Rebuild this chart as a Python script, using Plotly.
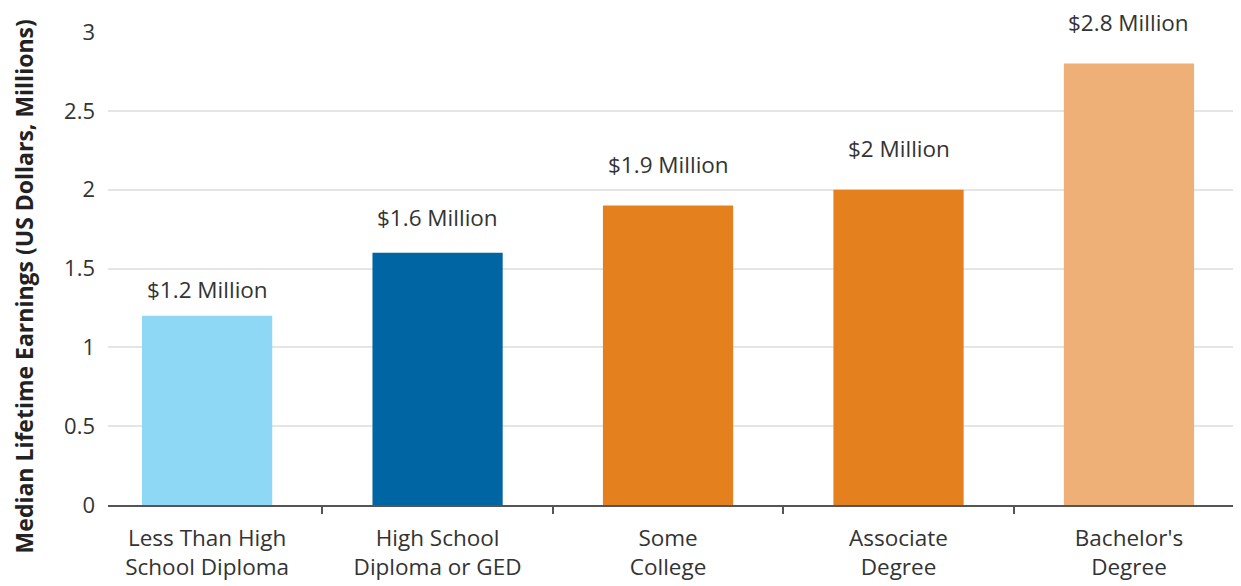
import plotly.graph_objects as go

categories = ["Less Than High<br>School Diploma", "High School<br>Diploma or GED", "Some<br>College", "Associate<br>Degree", "Bachelor's<br>Degree"]
values = [1.2, 1.6, 1.9, 2.0, 2.8]
labels = ["$1.2 Million", "$1.6 Million", "$1.9 Million", "$2 Million", "$2.8 Million"]
colors = ["#8ED8F6", "#0065A3", "#E5801E", "#E5801E", "#EEB077"]
label_shift = [10, 19, 24, 25, 25]
y_ticks = [0, 0.5, 1, 1.5, 2, 2.5, 3]
y_tick_text = ["0", "0.5", "1", "1.5", "2", "2.5", "3"]

FONT = "'Open Sans', Lato, sans-serif"

fig = go.Figure()
fig.add_trace(go.Bar(
    x=categories, y=values, marker=dict(color=colors, line=dict(width=0)),
    width=0.565, hoverinfo="skip", cliponaxis=False,
))

for c, v, t, s in zip(categories, values, labels, label_shift):
    fig.add_annotation(x=c, y=v, text=t, showarrow=False, yanchor="bottom",
                       yshift=s, borderpad=0,
                       font=dict(family=FONT, size=22.5, color="#333333"))

fig.add_annotation(xref="paper", yref="paper", x=-0.074, y=0.4625,
                   xanchor="center", yanchor="middle",
                   text="<b>Median Lifetime Earnings (US Dollars, Millions)</b>",
                   textangle=-90, showarrow=False,
                   font=dict(family=FONT, size=23, color="#222222"))

fig.update_layout(
    width=1241, height=586,
    margin=dict(l=100, r=8, t=17, b=89),
    plot_bgcolor="white", paper_bgcolor="white",
    showlegend=False,
    font=dict(family=FONT, size=22, color="#333333"),
    xaxis=dict(
        range=[-0.43, 4.486], showgrid=False,
        showline=True, linecolor="#555555", linewidth=2,
        ticks="outside", tickson="boundaries", ticklen=7, tickwidth=2, tickcolor="#555555",
        ticklabelstandoff=12,
        tickfont=dict(family=FONT, size=22.5, color="#333333"),
        fixedrange=True,
    ),
    yaxis=dict(
        range=[0, 3], tickvals=y_ticks, ticktext=y_tick_text,
        showgrid=True, gridcolor="#E5E5E5", gridwidth=1.5,
        zeroline=False, showline=False, ticks="",
        ticklabelstandoff=12,
        tickfont=dict(family=FONT, size=22, color="#333333"),
        fixedrange=True,
    ),
)

fig.write_html("out.html")
